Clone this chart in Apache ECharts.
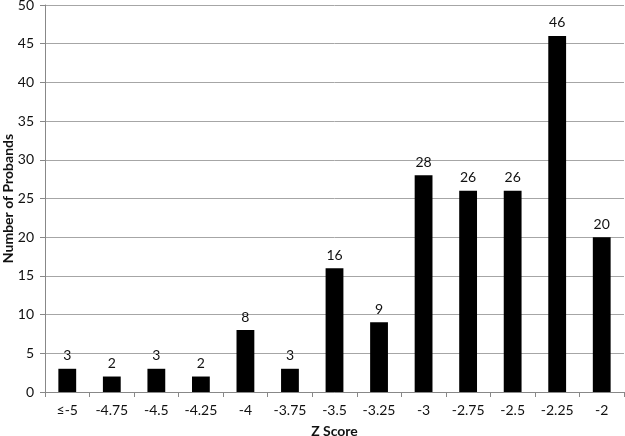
<!DOCTYPE html>
<html><head><meta charset="utf-8">
<script src="https://cdn.jsdelivr.net/npm/echarts@6/dist/echarts.min.js"></script>
<style>html,body{margin:0;padding:0;background:#fff}#c{width:625px;height:436px}</style>
</head><body><div id="c"></div>
<script>
const categories = ['≤-5','-4.75','-4.5','-4.25','-4','-3.75','-3.5','-3.25','-3','-2.75','-2.5','-2.25','-2'];
const counts = [3,2,3,2,8,3,16,9,28,26,26,46,20];
const yTicks = {min:0, max:50, interval:5};
const font = 'Lato, "Open Sans", sans-serif';
const chart = echarts.init(document.getElementById('c'), null, {renderer:'canvas'});
chart.setOption({
  animation:false,
  backgroundColor:'#fff',
  grid:{left:45,right:1,top:5,bottom:44,containLabel:false,outerBoundsMode:'none'},
  xAxis:{type:'category',data:categories,
    name:'Z Score',nameLocation:'middle',nameGap:32,nameMoveOverlap:false,
    nameTextStyle:{fontWeight:'bold',fontSize:14,color:'#111',fontFamily:font},
    axisLine:{lineStyle:{color:'#888',width:1}},
    axisTick:{show:true,alignWithLabel:false,length:5,lineStyle:{color:'#888'}},
    axisLabel:{fontSize:14,color:'#111',fontFamily:font,margin:11}},
  yAxis:{type:'value',min:yTicks.min,max:yTicks.max,interval:yTicks.interval,
    name:'Number of Probands',nameLocation:'middle',nameGap:30,nameMoveOverlap:false,
    nameTextStyle:{fontWeight:'bold',fontSize:14,color:'#111',fontFamily:font},
    axisLine:{show:true,lineStyle:{color:'#888',width:1}},
    axisTick:{show:true,length:5,lineStyle:{color:'#888'}},
    axisLabel:{fontSize:14,color:'#111',fontFamily:font,margin:11},
    splitLine:{lineStyle:{color:'#a6a6a6',width:1}}},
  series:[{type:'bar',data:counts,barWidth:'40%',
    itemStyle:{color:'#000'},
    label:{show:true,position:'top',distance:6,fontSize:14,color:'#111',fontFamily:font}}]
});
</script></body></html>
